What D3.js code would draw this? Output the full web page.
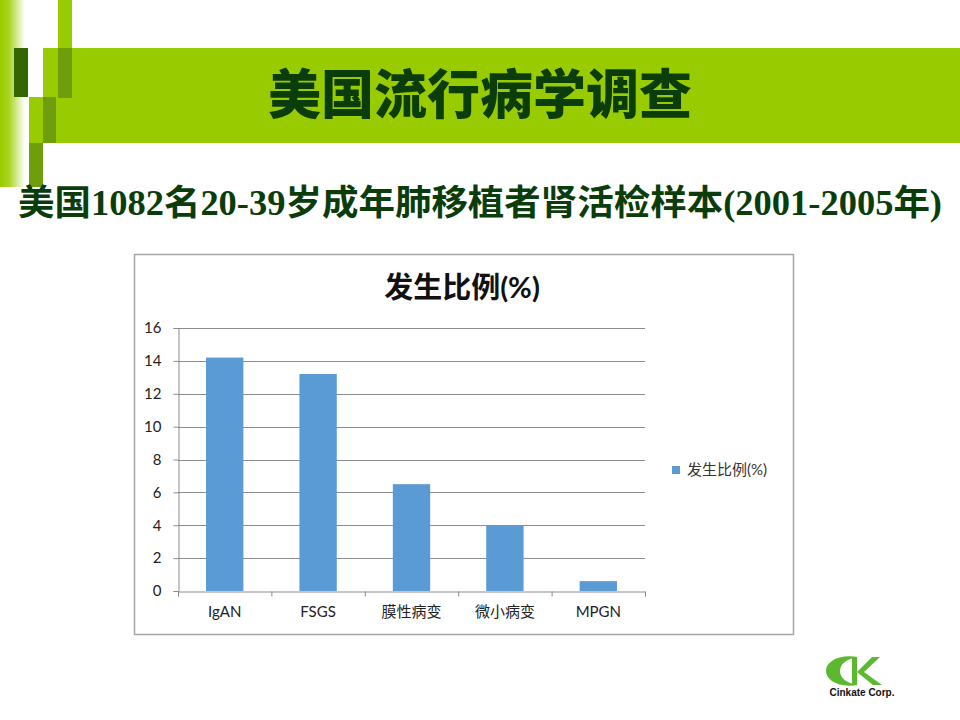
<!DOCTYPE html>
<html>
<head>
<meta charset="utf-8">
<script src="https://cdn.jsdelivr.net/npm/d3@7"></script>
<style>
  body { margin: 0; background: #fff; }
  svg { display: block; }
</style>
</head>
<body>
<div id="root"></div>
<script>
var categories = ["IgAN", "FSGS", "膜性病变", "微小病变", "MPGN"];
var values = [14.2, 13.2, 6.5, 4.0, 0.6];
var yTicks = [0, 2, 4, 6, 8, 10, 12, 14, 16];
var seriesName = "发生比例(%)";
var pageTitle = "美国流行病学调查";
var subTitle = "美国1082名20-39岁成年肺移植者肾活检样本(2001-2005年)";

var width = 960, height = 720;
var svg = d3.select("#root").append("svg")
    .attr("width", width)
    .attr("height", height);

// slide decoration (green blocks)
var defs = svg.append("defs");
var grad = defs.append("linearGradient").attr("id", "lg").attr("x1", "0").attr("x2", "1");
grad.append("stop").attr("offset", "0").attr("stop-color", "#99cc00");
grad.append("stop").attr("offset", "0.35").attr("stop-color", "#a8d420");
grad.append("stop").attr("offset", "1").attr("stop-color", "#ffffff");

var blocks = svg.append("g");
blocks.append("rect").attr("x", 0).attr("y", 0).attr("width", 25).attr("height", 187).attr("fill", "url(#lg)");
blocks.append("rect").attr("x", 43).attr("y", 48).attr("width", 917).attr("height", 95).attr("fill", "#99cc00");
blocks.append("rect").attr("x", 29).attr("y", 97).attr("width", 14).attr("height", 46).attr("fill", "#99cc00");
blocks.append("rect").attr("x", 58).attr("y", 0).attr("width", 14).attr("height", 48).attr("fill", "#99cc00");
blocks.append("rect").attr("x", 58).attr("y", 48).attr("width", 14).attr("height", 50).attr("fill", "#6f9e0c");
blocks.append("rect").attr("x", 43).attr("y", 97).attr("width", 13).attr("height", 46).attr("fill", "#6f9e0c");
blocks.append("rect").attr("x", 29).attr("y", 143).attr("width", 14).attr("height", 44).attr("fill", "#6f9e0c");
blocks.append("rect").attr("x", 14).attr("y", 48).attr("width", 14).attr("height", 49).attr("fill", "#336600");

svg.append("text")
    .attr("x", 480).attr("y", 114)
    .attr("text-anchor", "middle")
    .attr("font-family", "'Noto Sans CJK SC', sans-serif")
    .attr("font-weight", 900)
    .attr("font-size", 53)
    .attr("fill", "#0b3d0b")
    .text(pageTitle);

svg.append("text")
    .attr("x", 18).attr("y", 215)
    .attr("font-family", "'Liberation Serif', 'Noto Sans CJK SC', serif")
    .attr("font-weight", "bold")
    .attr("font-size", 35)
    .attr("textLength", 924)
    .attr("lengthAdjust", "spacingAndGlyphs")
    .attr("fill", "#0b3d0b")
    .text(subTitle);

// chart frame
svg.append("rect")
    .attr("x", 134.5).attr("y", 254.5)
    .attr("width", 659).attr("height", 380)
    .attr("fill", "#fff")
    .attr("stroke", "#a6a6a6")
    .attr("stroke-width", 1.5);

var chartFont = "Lato, 'Noto Sans CJK SC', sans-serif";

svg.append("text")
    .attr("x", 462).attr("y", 298)
    .attr("text-anchor", "middle")
    .attr("font-family", chartFont)
    .attr("font-size", 29)
    .attr("font-weight", "bold")
    .attr("fill", "#111")
    .text(seriesName);

var x = d3.scaleBand().domain(categories).range([178, 645]).paddingInner(0.6).paddingOuter(0.3);
var y = d3.scaleLinear().domain([0, 16]).range([591, 328]);

// gridlines
svg.append("g").selectAll("line")
    .data(yTicks.filter(function (d) { return d > 0; }))
    .enter().append("line")
    .attr("x1", 178).attr("x2", 645)
    .attr("y1", function (d) { return Math.round(y(d)) + 0.5; })
    .attr("y2", function (d) { return Math.round(y(d)) + 0.5; })
    .attr("stroke", "#8c8c8c");

// bars
svg.append("g").selectAll("rect")
    .data(values)
    .enter().append("rect")
    .attr("x", function (d, i) { return x(categories[i]); })
    .attr("y", function (d) { return y(d); })
    .attr("width", x.bandwidth())
    .attr("height", function (d) { return y(0) - y(d); })
    .attr("fill", "#5b9bd5");

// y axis
var yAxis = svg.append("g")
    .attr("transform", "translate(178.5,0)")
    .call(d3.axisLeft(y).tickValues(yTicks).tickSize(5).tickPadding(12));
yAxis.selectAll("path, line").attr("stroke", "#8c8c8c");
yAxis.selectAll("text")
    .attr("font-family", chartFont)
    .attr("font-size", 15)
    .attr("fill", "#222");

// x axis: boundary ticks + category labels
var xb = d3.scaleLinear().domain([0, categories.length]).range([178, 645]);
var xTickAxis = svg.append("g")
    .attr("transform", "translate(0," + (Math.round(y(0)) + 0.5) + ")")
    .call(d3.axisBottom(xb).tickValues(d3.range(categories.length + 1)).tickSize(5).tickFormat(""));
xTickAxis.selectAll("path, line").attr("stroke", "#8c8c8c");

var xLab = svg.append("g")
    .attr("transform", "translate(0," + (Math.round(y(0)) + 0.5) + ")")
    .call(d3.axisBottom(x).tickSize(0).tickPadding(15));
xLab.select(".domain").remove();
xLab.selectAll("text")
    .attr("font-family", chartFont)
    .attr("font-size", 15)
    .attr("fill", "#222");

// legend
var legend = svg.append("g").attr("transform", "translate(672,466)");
legend.append("rect").attr("width", 8).attr("height", 8).attr("fill", "#5b9bd5");
legend.append("text")
    .attr("x", 15).attr("y", 4).attr("dy", "0.35em")
    .attr("font-family", chartFont)
    .attr("font-size", 15)
    .attr("fill", "#333")
    .text(seriesName);

// company logo
var logo = svg.append("g");
logo.append("path")
    .attr("d", "M858,657 C838,654 826,662 826,671 C826,680 838,688 858,685 C846,683 840,678 840,671 C840,664 846,659 858,657 Z")
    .attr("fill", "#5cb82e");
logo.append("rect").attr("x", 852).attr("y", 657).attr("width", 5).attr("height", 28).attr("fill", "#5cb82e");
logo.append("path")
    .attr("d", "M857,672 L872,657 L880,657 L864,672 L882,685 L873,685 Z")
    .attr("fill", "#5cb82e");
logo.append("text")
    .attr("x", 862).attr("y", 696)
    .attr("text-anchor", "middle")
    .attr("font-family", "'Liberation Sans', Arial, sans-serif")
    .attr("font-weight", "bold")
    .attr("font-size", 10)
    .attr("fill", "#111")
    .text("Cinkate Corp.");
</script>
</body>
</html>
